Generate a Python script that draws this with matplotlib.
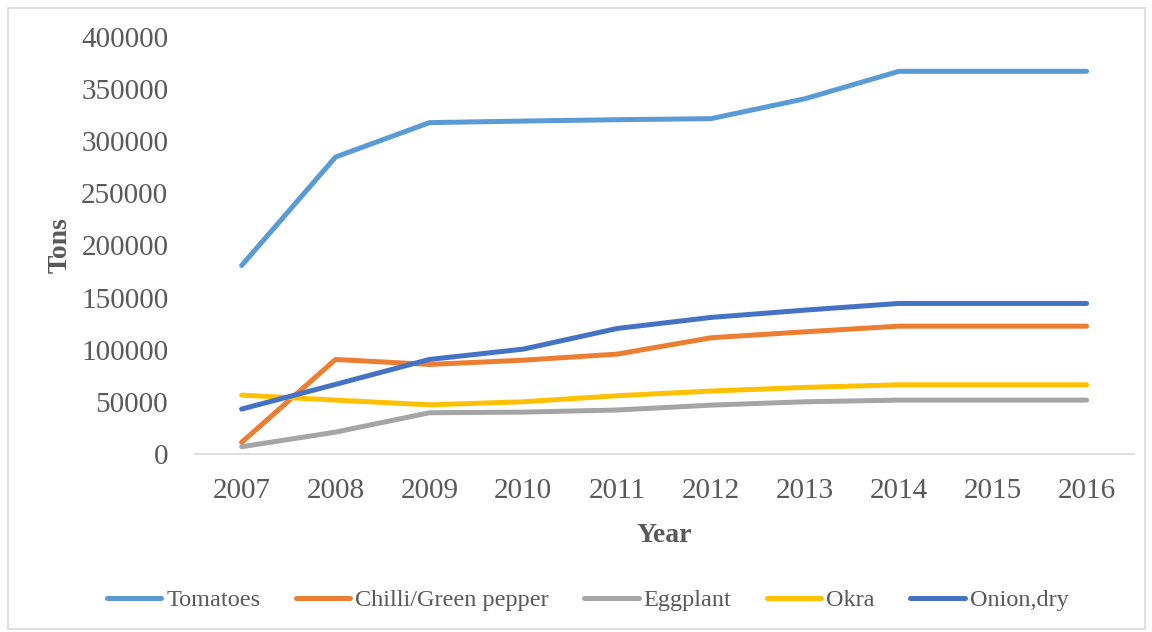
import numpy as np
import matplotlib.pyplot as plt
from matplotlib.patches import Rectangle

years = ['2007', '2008', '2009', '2010', '2011', '2012', '2013', '2014', '2015', '2016']
tomatoes = [180800, 284800, 317800, 319300, 320600, 321600, 340700, 367000, 367000, 367000]
chilli = [11200, 90700, 85900, 90000, 95800, 111500, 117200, 122600, 122600, 122600]
eggplant = [7000, 21000, 39600, 40200, 42200, 46900, 50100, 51700, 51700, 51700]
okra = [56500, 51700, 47200, 50100, 55900, 60400, 63900, 66400, 66400, 66400]
onion = [43100, 66800, 90700, 100600, 120400, 131000, 138000, 144400, 144400, 144400]

series = [('Tomatoes', tomatoes, '#5B9BD5'),
          ('Chilli/Green pepper', chilli, '#ED7D31'),
          ('Eggplant', eggplant, '#A5A5A5'),
          ('Okra', okra, '#FFC000'),
          ('Onion,dry', onion, '#4472C4')]

plt.rcParams['font.family'] = ['Liberation Serif', 'DejaVu Serif']

fig = plt.figure(figsize=(11.52, 6.32), dpi=100)
ax = fig.add_axes([0.169, 0.2816, 0.815, 0.66])

x = np.arange(len(years))
for name, vals, col in series:
    ax.plot(x, vals, color=col, lw=3.6, solid_capstyle='round', solid_joinstyle='round', label=name)

ax.set_xlim(-0.5, len(years) - 0.5)
ax.set_ylim(0, 400000)
ax.set_yticks(np.arange(0, 400001, 50000))
ax.set_xticks(x)
ax.set_xticklabels(years)
ax.tick_params(axis='both', length=0, labelsize=21, labelcolor='#595959')
ax.tick_params(axis='y', pad=19)
ax.tick_params(axis='x', pad=17)
for s in ['top', 'right', 'left']:
    ax.spines[s].set_visible(False)
ax.spines['bottom'].set_color('#D9D9D9')
ax.spines['bottom'].set_linewidth(1.2)

ax.set_ylabel('Tons', fontsize=20, fontweight='bold', color='#595959', labelpad=6)
ax.set_xlabel('Year', fontsize=20, fontweight='bold', color='#595959', labelpad=14)

fig.legend(loc='center', bbox_to_anchor=(0.51, 0.05), ncol=5, frameon=False,
           fontsize=17.5, labelcolor='#595959', handlelength=2.25, handletextpad=0.2,
           columnspacing=1.45)

fig.patches.append(Rectangle((0.007, 0.005), 0.987, 0.983, transform=fig.transFigure,
                             fill=False, edgecolor='#D9D9D9', lw=1.2))

fig.savefig('out.png', dpi=100)
